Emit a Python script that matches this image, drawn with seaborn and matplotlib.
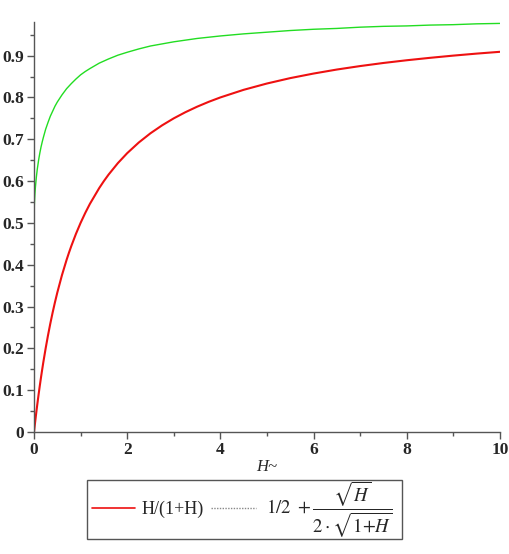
import pandas as pd
import matplotlib.pyplot as plt
from matplotlib.lines import Line2D
from matplotlib.patches import Rectangle
from matplotlib.ticker import MultipleLocator
import seaborn as sns


# =========================
# Dados
# =========================

h = [0, 0.001, 0.002, 0.005, 0.01, 0.02, 0.03, 0.05, 0.07, 0.1,
     0.125, 0.15, 0.175, 0.2, 0.25, 0.3, 0.35, 0.4, 0.45, 0.5,
     0.6, 0.7, 0.75, 0.8, 0.9, 1, 1.1, 1.2, 1.4, 1.5,
     1.6, 1.8, 2, 2.25, 2.5, 2.75, 3, 3.25, 3.5, 3.75,
     4, 4.5, 5, 5.5, 6, 6.5, 7, 7.5, 8, 8.5,
     9, 9.5, 10]

red = [0, 0.001, 0.002, 0.005, 0.0099, 0.0196, 0.0291, 0.0476, 0.0654, 0.0909,
       0.1111, 0.1304, 0.1489, 0.1667, 0.2, 0.2308, 0.2593, 0.2857, 0.3103, 0.3333,
       0.375, 0.4118, 0.4286, 0.4444, 0.4737, 0.5, 0.5238, 0.5455, 0.5833, 0.6,
       0.6154, 0.6429, 0.6667, 0.6923, 0.7143, 0.7333, 0.75, 0.7647, 0.7778, 0.7895,
       0.8, 0.8182, 0.8333, 0.8462, 0.8571, 0.8667, 0.875, 0.8824, 0.8889, 0.8947,
       0.9, 0.9048, 0.9091]

green = [0.5, 0.516, 0.522, 0.535, 0.55, 0.57, 0.585, 0.609, 0.628, 0.651,
         0.667, 0.681, 0.693, 0.704, 0.724, 0.740, 0.755, 0.767, 0.779, 0.789,
         0.806, 0.821, 0.827, 0.833, 0.844, 0.854, 0.862, 0.869, 0.882, 0.887,
         0.892, 0.901, 0.908, 0.916, 0.923, 0.928, 0.933, 0.937, 0.941, 0.944,
         0.947, 0.952, 0.956, 0.960, 0.963, 0.965, 0.968, 0.970, 0.971, 0.973,
         0.974, 0.976, 0.977]

df = pd.DataFrame({'H': h, 'red': red, 'green': green})


# =========================
# Estilo
# =========================

sns.set_style('ticks')
plt.rcParams['font.family'] = ['Liberation Serif', 'DejaVu Serif']
plt.rcParams['mathtext.fontset'] = 'stix'

fig = plt.figure(figsize=(5.09, 5.54), dpi=100)
ax = fig.add_axes([0.0668, 0.2202, 0.9152, 0.7398])


# =========================
# Curvas
# =========================

sns.lineplot(data=df, x='H', y='green', color='#22dd22', linewidth=1.0, ax=ax)
sns.lineplot(data=df, x='H', y='red', color='#ee1111', linewidth=1.5, ax=ax)

ax.set_xlim(0, 10)
ax.set_ylim(0, 0.98)

ax.xaxis.set_major_locator(MultipleLocator(2))
ax.xaxis.set_minor_locator(MultipleLocator(1))
ax.yaxis.set_minor_locator(MultipleLocator(0.05))
ax.set_yticks([i / 10 for i in range(10)])
ax.set_yticklabels(['0'] + ['%.1f' % (i / 10) for i in range(1, 10)])

for s in ['top', 'right']:
    ax.spines[s].set_visible(False)
for s in ['left', 'bottom']:
    ax.spines[s].set_color('#555555')
    ax.spines[s].set_linewidth(1.0)

ax.tick_params(which='major', length=5, width=1, color='#555555',
               labelsize=12.5, pad=2)
ax.tick_params(which='minor', length=3, width=1, color='#555555')
for lab in ax.get_xticklabels() + ax.get_yticklabels():
    lab.set_fontweight('bold')

ax.set_xlabel('H~', fontsize=12, style='italic', labelpad=1)
ax.set_ylabel('')


# =========================
# Legenda (caixa embaixo)
# =========================

W, H = 509, 554


def fx(px):
    return px / W


def fy(py):
    return 1 - py / H


fig.patches.append(Rectangle((fx(87), fy(539)), fx(402) - fx(87), fy(480) - fy(539),
                             transform=fig.transFigure, fill=False,
                             edgecolor='#555555', linewidth=1.0))

fig.lines.append(Line2D([fx(92), fx(135)], [fy(508), fy(508)],
                        transform=fig.transFigure, color='#ee1111', linewidth=1.2))
fig.text(fx(142), fy(509), 'H/(1+H)', fontsize=13, va='center', ha='left')

fig.lines.append(Line2D([fx(211), fx(256)], [fy(508), fy(508)],
                        transform=fig.transFigure, color='#888888',
                        linewidth=1.0, linestyle=(0, (1, 1))))
fig.text(fx(266), fy(509),
         r'$\mathit{1/2}\ +\dfrac{\sqrt{\mathit{H}}}{2\cdot\sqrt{\mathit{1{+}H}}}$',
         fontsize=13.5, va='center', ha='left')

plt.savefig('out.png', dpi=100)
